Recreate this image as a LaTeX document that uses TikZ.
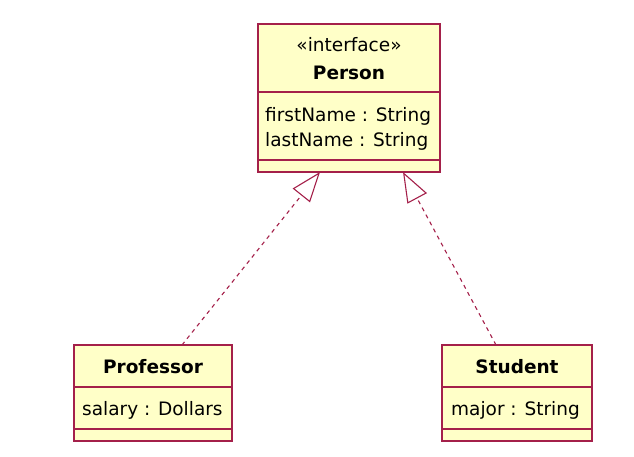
\documentclass[tikz,border=0pt]{standalone}
\usepackage{fontspec}
\setmainfont{DejaVu Sans}
\usetikzlibrary{arrows.meta}
\definecolor{umlline}{RGB}{164,32,74}
\definecolor{umlfill}{RGB}{255,255,200}
\tikzset{
  classbox/.style={draw=umlline, fill=umlfill, line width=1.3pt, inner sep=0pt, outer sep=0pt},
  divider/.style={draw=umlline, line width=1.3pt},
  txt/.style={inner sep=0pt, font=\fontsize{18.5}{21}\selectfont, text=black},
  btxt/.style={inner sep=0pt, font=\fontsize{18.5}{21}\selectfont\bfseries, text=black},
  realize/.style={draw=umlline, line width=1.1pt, dash pattern=on 4pt off 4pt,
    -{Triangle[open, length=30pt, width=22pt, line width=1.1pt]}}
}
\begin{document}
\begin{tikzpicture}[x=1pt, y=-1pt]
\useasboundingbox (0,0) rectangle (634,456);
% Person
\node[classbox, minimum width=182pt, minimum height=148pt] (person) at (349,98) {};
\draw[divider] (258,92) -- (440,92);
\draw[divider] (258,160) -- (440,160);
\node[txt, anchor=base] (pst) at (349,51.5) {«interface»};
\node[btxt, anchor=base] (pname) at (349,79) {Person};
\node[txt, anchor=base west] (pa1) at (265,121) {firstName : String};
\node[txt, anchor=base west] (pa2) at (265,146) {lastName : String};
% Professor
\node[classbox, minimum width=158pt, minimum height=96pt] (prof) at (153,393) {};
\draw[divider] (74,387) -- (232,387);
\draw[divider] (74,429) -- (232,429);
\node[btxt, anchor=base] (profname) at (153,373) {Professor};
\node[txt, anchor=base west] (profa) at (82,415) {salary : Dollars};
% Student
\node[classbox, minimum width=150pt, minimum height=96pt] (stud) at (517,393) {};
\draw[divider] (442,387) -- (592,387);
\draw[divider] (442,429) -- (592,429);
\node[btxt, anchor=base] (studname) at (517,373) {Student};
\node[txt, anchor=base west] (studa) at (451,415) {major : String};
% connectors
\coordinate (profTop) at (182,345);
\coordinate (studTop) at (496,345);
\coordinate (personL) at (320,172);
\coordinate (personR) at (403,172);
\draw[realize] (profTop) -- (personL);
\draw[realize] (studTop) -- (personR);
\end{tikzpicture}
\end{document}
